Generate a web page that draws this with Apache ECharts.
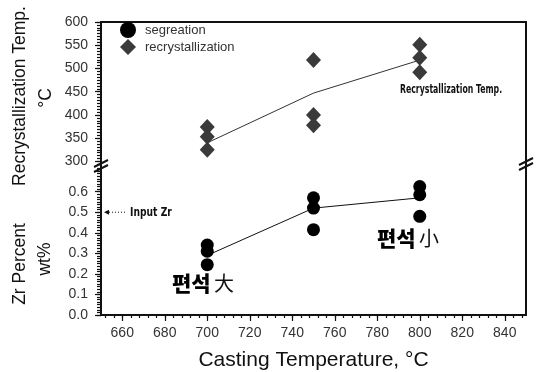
<!DOCTYPE html>
<html>
<head>
<meta charset="utf-8">
<script src="https://cdn.jsdelivr.net/npm/echarts@6/dist/echarts.min.js"></script>
<style>
  html, body { margin: 0; padding: 0; background: #fff; }
  #chart { width: 537px; height: 372px; }
</style>
</head>
<body>
<div id="chart"></div>
<script>
// casting temperatures where samples were taken
const castingTemps = [700, 750, 800];

// recrystallization temperature (°C), three samples per casting temp
const recrystAt700 = [374, 353, 325];
const recrystAt750 = [518, 400, 378];
const recrystAt800 = [551, 523, 492];
const recrystTrend = [340, 447, 518];

// Zr percent (wt%), three samples per casting temp
const segAt700 = [0.34, 0.31, 0.245];
const segAt750 = [0.57, 0.52, 0.415];
const segAt800 = [0.625, 0.585, 0.48];
const segTrend = [0.29, 0.52, 0.57];

const inputZr = 0.5;

// tick labels
const xTickLabels = [660, 680, 700, 720, 740, 760, 780, 800, 820, 840];
const tempTickLabels = [300, 350, 400, 450, 500, 550, 600];
const zrTickLabels = [0, 0.1, 0.2, 0.3, 0.4, 0.5, 0.6];

const xRange = [650, 850];
const tempRange = [288, 600];
const zrRange = [0, 0.72];

const FONT = '"Liberation Sans", Arial, sans-serif';
const NARROW = '"Liberation Sans Narrow", "DejaVu Sans Condensed", sans-serif';
const CJK = '"Noto Sans CJK KR", "Noto Sans CJK SC", sans-serif';
const INK = '#111';

function steps(from, to, step) {
  const out = [];
  for (let i = 0; from + i * step <= to + 1e-9; i++) out.push(+(from + i * step).toFixed(4));
  return out;
}

function pairs(groups) {
  return groups.flatMap((vals, i) => vals.map(v => [castingTemps[i], v]));
}

const hidden = { show: false };
const frameLine = { show: true, lineStyle: { color: INK, width: 2 } };
const tickLine = { color: INK, width: 1.2 };
const tickLabel = { fontSize: 14, color: '#333', fontFamily: FONT };

function lineOnlyAxis(gridIndex, position, range) {
  return {
    gridIndex, position, type: 'value', min: range[0], max: range[1],
    axisLine: frameLine, axisTick: hidden, axisLabel: hidden, splitLine: hidden
  };
}

function minorAxis(gridIndex, position, range, values, len) {
  return {
    gridIndex, position, type: 'value', min: range[0], max: range[1],
    axisLine: hidden, axisLabel: hidden, splitLine: hidden,
    axisTick: { show: true, length: len, customValues: values, lineStyle: tickLine }
  };
}

const chart = echarts.init(document.getElementById('chart'));

chart.setOption({
  animation: false,
  backgroundColor: '#fff',
  grid: [
    { left: 101, right: 11, top: 22, height: 145, outerBoundsMode: 'none' },
    { left: 101, right: 11, top: 167, bottom: 57, outerBoundsMode: 'none' }
  ],
  legend: {
    data: [
      { name: 'segreation', icon: 'circle' },
      { name: 'recrystallization', icon: 'diamond' }
    ],
    orient: 'vertical',
    left: 115,
    top: 17,
    itemWidth: 16,
    itemHeight: 16,
    itemGap: 1,
    selectedMode: false,
    textStyle: { fontSize: 13, color: '#333', fontFamily: FONT, padding: [0, 0, 0, 4] }
  },
  xAxis: [
    lineOnlyAxis(0, 'top', xRange),
    {
      gridIndex: 1, position: 'bottom', type: 'value', min: xRange[0], max: xRange[1],
      axisLine: frameLine,
      axisTick: { show: true, length: 6, customValues: xTickLabels, lineStyle: tickLine },
      axisLabel: Object.assign({ customValues: xTickLabels, margin: 11 }, tickLabel),
      splitLine: hidden,
      name: 'Casting Temperature, °C',
      nameLocation: 'middle',
      nameGap: 35,
      nameTextStyle: { fontSize: 21, color: INK, fontFamily: FONT }
    },
    minorAxis(1, 'bottom', xRange, steps(652, 848, 4), 3)
  ],
  yAxis: [
    {
      gridIndex: 0, position: 'left', type: 'value', min: tempRange[0], max: tempRange[1],
      axisLine: frameLine,
      axisTick: { show: true, length: 6, customValues: tempTickLabels, lineStyle: tickLine },
      axisLabel: Object.assign({ customValues: tempTickLabels, margin: 13 }, tickLabel),
      splitLine: hidden
    },
    minorAxis(0, 'left', tempRange, steps(293.75, 600, 6.25), 4),
    lineOnlyAxis(0, 'right', tempRange),
    {
      gridIndex: 1, position: 'left', type: 'value', min: zrRange[0], max: zrRange[1],
      axisLine: frameLine,
      axisTick: { show: true, length: 6, customValues: zrTickLabels, lineStyle: tickLine },
      axisLabel: Object.assign({
        customValues: zrTickLabels, margin: 13,
        formatter: v => v.toFixed(1)
      }, tickLabel),
      splitLine: hidden
    },
    minorAxis(1, 'left', zrRange, steps(0, 0.7125, 0.0125), 4),
    lineOnlyAxis(1, 'right', zrRange)
  ],
  series: [
    {
      name: 'recrystallization trend',
      type: 'line',
      xAxisIndex: 0, yAxisIndex: 0,
      data: castingTemps.map((t, i) => [t, recrystTrend[i]]),
      symbol: 'none',
      lineStyle: { color: '#333', width: 1 },
      z: 1
    },
    {
      name: 'recrystallization',
      type: 'scatter',
      xAxisIndex: 0, yAxisIndex: 0,
      data: pairs([recrystAt700, recrystAt750, recrystAt800]),
      symbol: 'diamond',
      symbolSize: [15, 16],
      itemStyle: { color: '#3a3a3a', opacity: 1 },
      z: 3
    },
    {
      name: 'segregation trend',
      type: 'line',
      xAxisIndex: 1, yAxisIndex: 3,
      data: castingTemps.map((t, i) => [t, segTrend[i]]),
      symbol: 'none',
      lineStyle: { color: '#111', width: 1 },
      z: 1
    },
    {
      name: 'segreation',
      type: 'scatter',
      xAxisIndex: 1, yAxisIndex: 3,
      data: pairs([segAt700, segAt750, segAt800]),
      symbol: 'circle',
      symbolSize: 13,
      itemStyle: { color: '#000', opacity: 1 },
      z: 3
    }
  ]
});

// axis break marks "//" on the left and right frame lines
function breakMark(cx, cy) {
  const slash = dy => ({
    type: 'line',
    shape: { x1: cx - 7, y1: cy + dy + 3.5, x2: cx + 7, y2: cy + dy - 3.5 },
    style: { stroke: INK, lineWidth: 2 }
  });
  return [
    { type: 'rect', shape: { x: cx - 3, y: cy - 2, width: 6, height: 4 }, style: { fill: '#fff' } },
    slash(-2.5),
    slash(2.5)
  ];
}

const zrPx = chart.convertToPixel({ xAxisIndex: 1, yAxisIndex: 3 }, [xRange[0], inputZr]);
const arrowY = zrPx[1];
const axisX = zrPx[0];

function rotatedTitle(text, x, y) {
  return {
    type: 'text', x, y, rotation: Math.PI / 2,
    style: { text, fontSize: 17.5, fontFamily: FONT, fill: INK, align: 'center', verticalAlign: 'middle', textAlign: 'center', textVerticalAlign: 'middle' }
  };
}

function condensedNote(text, x, y, size, squeeze) {
  return {
    type: 'text', x, y, scaleX: squeeze,
    style: { text, fontSize: size, fontWeight: 'bold', fontFamily: NARROW, fill: INK, verticalAlign: 'middle', textVerticalAlign: 'middle' }
  };
}

function korean(x, y, hanja) {
  return {
    type: 'text', x, y,
    style: {
      text: '{b|편석} {r|' + hanja + '}',
      verticalAlign: 'middle', textVerticalAlign: 'middle',
      rich: {
        b: { fontSize: 21, fontWeight: 900, fontFamily: CJK, fill: '#000' },
        r: { fontSize: 20, fontWeight: 'normal', fontFamily: CJK, fill: '#111' }
      }
    }
  };
}

chart.setOption({
  graphic: [
    rotatedTitle('Recrystallization Temp.', 20, 96),
    rotatedTitle('°C', 46, 98),
    rotatedTitle('Zr Percent', 20, 264),
    rotatedTitle('wt%', 45, 259),
    condensedNote('Recrystallization Temp.', 400, 90, 12, 0.72),
    condensedNote('Input Zr', 130, arrowY + 1, 12, 0.85),
    {
      type: 'line',
      shape: { x1: axisX + 8, y1: arrowY, x2: 127, y2: arrowY },
      style: { stroke: INK, lineWidth: 1, lineDash: [1, 2] }
    },
    {
      type: 'polygon',
      shape: { points: [[axisX + 3, arrowY], [axisX + 8, arrowY - 2.5], [axisX + 8, arrowY + 2.5]] },
      style: { fill: INK }
    },
    korean(172, 283, '大'),
    korean(377, 238, '小'),
    ...breakMark(101, 166),
    ...breakMark(526, 164)
  ]
});
</script>
</body>
</html>
